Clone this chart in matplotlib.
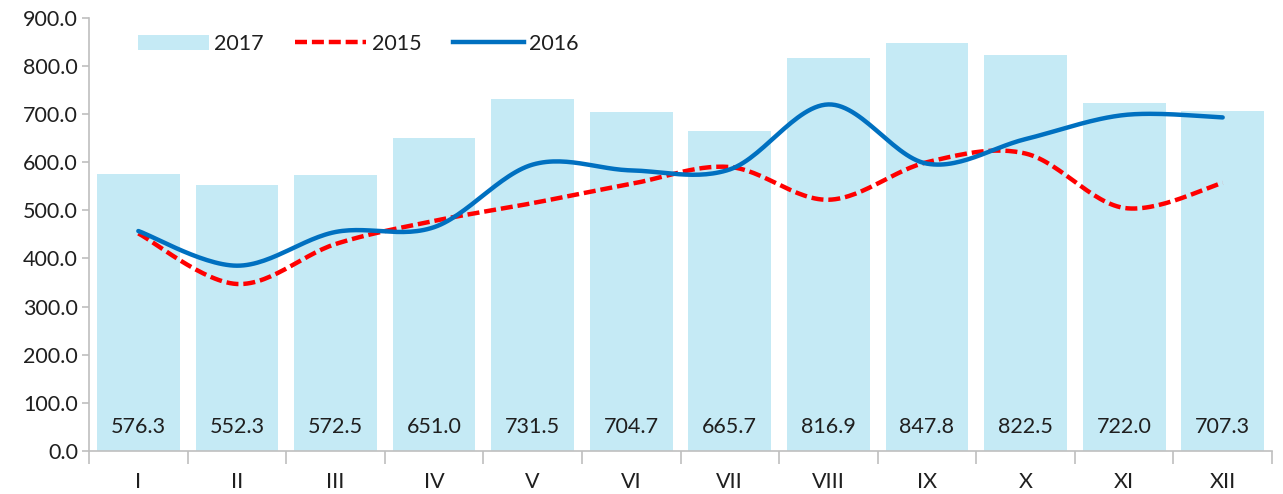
import numpy as np
import matplotlib
matplotlib.use("Agg")
import matplotlib.pyplot as plt
from matplotlib.patches import Patch
from matplotlib.lines import Line2D

plt.rcParams['font.family'] = ['Lato', 'DejaVu Sans']

months = ["I", "II", "III", "IV", "V", "VI", "VII", "VIII", "IX", "X", "XI", "XII"]
v2017 = [576.3, 552.3, 572.5, 651.0, 731.5, 704.7, 665.7, 816.9, 847.8, 822.5, 722.0, 707.3]
v2015 = [452, 347, 430, 478, 515, 555, 590, 522, 600, 618, 505, 557]
v2016 = [457, 385, 455, 465, 595, 583, 585, 720, 597, 648, 698, 693]


def smooth(xs, ys, n=30):
    # Excel-style smoothed line (cardinal bezier between points)
    xs = np.asarray(xs, float)
    ys = np.asarray(ys, float)
    px = np.concatenate([[xs[0]], xs, [xs[-1]]])
    py = np.concatenate([[ys[0]], ys, [ys[-1]]])
    outx, outy = [], []
    t = np.linspace(0, 1, n)
    for i in range(1, len(px) - 2):
        p0 = np.array([px[i - 1], py[i - 1]])
        p1 = np.array([px[i], py[i]])
        p2 = np.array([px[i + 1], py[i + 1]])
        p3 = np.array([px[i + 2], py[i + 2]])
        c1 = p1 + (p2 - p0) / 6
        c2 = p2 - (p3 - p1) / 6
        b = ((1 - t) ** 3)[:, None] * p1 + (3 * (1 - t) ** 2 * t)[:, None] * c1 \
            + (3 * (1 - t) * t ** 2)[:, None] * c2 + (t ** 3)[:, None] * p2
        outx.extend(b[:, 0])
        outy.extend(b[:, 1])
    return outx, outy


fig = plt.figure(figsize=(12.83, 4.94), dpi=100)
ax = fig.add_axes([0.0694, 0.087, 0.922, 0.877])

fs = 15.5
txt = "#1f1f1f"
x = np.arange(len(months))
bar_color = "#C5EAF5"
ax.bar(x, v2017, width=0.84, color=bar_color, zorder=1)
for xi, v in zip(x, v2017):
    ax.text(xi, 50, f"{v:.1f}", ha="center", va="center", fontsize=fs, color=txt, zorder=3)

red_dash = (2.7, 1.1)
sx, sy = smooth(x, v2015)
ax.plot(sx, sy, color="#FF0000", lw=3.2, dashes=red_dash, zorder=2)
sx, sy = smooth(x, v2016)
ax.plot(sx, sy, color="#0070C0", lw=3.2, solid_capstyle="round", zorder=2)

ax.set_xlim(-0.5, 11.5)
ax.set_ylim(0, 900)
ax.set_yticks(np.arange(0, 901, 100))
ax.set_yticklabels([f"{v:.1f}" for v in np.arange(0, 901, 100)], fontsize=fs, color=txt)
ax.set_xticks(x)
ax.set_xticklabels(months, fontsize=fs, color=txt)
ax.set_xticks(np.arange(-0.5, 12, 1), minor=True)
ax.tick_params(axis="x", which="major", length=0, pad=15)
ax.tick_params(axis="x", which="minor", length=9, color="#BFBFBF", width=1.2)
ax.tick_params(axis="y", length=5, color="#BFBFBF", width=1.2, pad=3)

for s in ["top", "right"]:
    ax.spines[s].set_visible(False)
for s in ["left", "bottom"]:
    ax.spines[s].set_color("#BFBFBF")
    ax.spines[s].set_linewidth(1.2)

handles = [
    Patch(facecolor=bar_color, edgecolor="none"),
    Line2D([], [], color="#FF0000", lw=3.2, dashes=red_dash),
    Line2D([], [], color="#0070C0", lw=3.2),
]
ax.legend(handles, ["2017", "2015", "2016"], loc="upper left", bbox_to_anchor=(0.025, 1.008),
          ncol=3, frameon=False, fontsize=fs, handlelength=3.3, handletextpad=0.25,
          columnspacing=1.45, labelcolor=txt)

fig.savefig("out.png", dpi=100)
